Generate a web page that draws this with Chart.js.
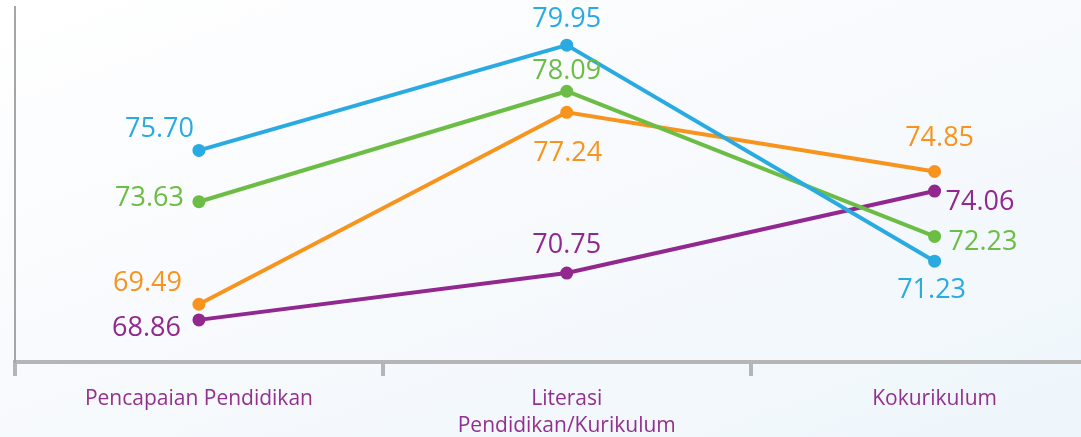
<!DOCTYPE html>
<html>
<head>
<meta charset="utf-8">
<script src="https://cdn.jsdelivr.net/npm/chart.js@4/dist/chart.umd.min.js"></script>
<style>
  html, body { margin: 0; padding: 0; overflow: hidden; }
  body {
    width: 1081px; height: 437px;
    background: linear-gradient(160deg, #ffffff 0%, #f8fafd 45%, #eef6fb 100%);
  }
  #wrap { position: relative; width: 1125px; height: 437px; }
</style>
</head>
<body>
<div id="wrap"><canvas id="chart"></canvas></div>
<script>
  // categories and series
  const categories = ['Pencapaian Pendidikan', ['Literasi', 'Pendidikan/Kurikulum'], 'Kokurikulum'];
  const blueValues = [75.70, 79.95, 71.23];
  const greenValues = [73.63, 78.09, 72.23];
  const orangeValues = [69.49, 77.24, 74.85];
  const purpleValues = [68.86, 70.75, 74.06];

  const BLUE = '#29abe2', GREEN = '#6cbd45', ORANGE = '#f7941d', PURPLE = '#92278f';

  // where each value label sits relative to its point: [dx, dy, align]
  const labelPos = [
    [[-5, -21, 'right'], [0, -26, 'center'], [-3, 29, 'center']],
    [[-15, -3, 'right'], [0, -20, 'center'], [14, 6, 'left']],
    [[-17, -21, 'right'], [1, 41, 'center'], [5, -33, 'center']],
    [[-18, 8, 'right'], [0, -28, 'center'], [11, 11, 'left']]
  ];

  const valueLabels = {
    id: 'valueLabels',
    afterDatasetsDraw(chart) {
      const ctx = chart.ctx;
      ctx.save();
      ctx.font = '27px "Open Sans", sans-serif';
      ctx.textBaseline = 'middle';
      chart.data.datasets.forEach((ds, i) => {
        chart.getDatasetMeta(i).data.forEach((pt, j) => {
          const p = labelPos[i][j];
          ctx.fillStyle = ds.borderColor;
          ctx.textAlign = p[2];
          ctx.fillText(ds.data[j].toFixed(2), pt.x + p[0], pt.y + p[1]);
        });
      });
      ctx.restore();
    }
  };

  function series(data, color) {
    return {
      data: data,
      borderColor: color,
      backgroundColor: color,
      pointBackgroundColor: color,
      pointBorderWidth: 0,
      borderWidth: 4,
      pointRadius: 6.5,
      tension: 0,
      clip: false
    };
  }

  new Chart(document.getElementById('chart'), {
    type: 'line',
    data: {
      labels: categories,
      datasets: [
        series(blueValues, BLUE),
        series(greenValues, GREEN),
        series(orangeValues, ORANGE),
        series(purpleValues, PURPLE)
      ]
    },
    options: {
      responsive: true,
      maintainAspectRatio: false,
      animation: false,
      layout: { padding: { left: 15, top: 4, right: 0, bottom: 0 } },
      plugins: { legend: { display: false }, tooltip: { enabled: false } },
      scales: {
        x: {
          offset: true,
          grid: {
            offset: true,
            drawOnChartArea: false,
            drawTicks: true,
            tickLength: 14,
            color: '#b5b5b5',
            lineWidth: 4
          },
          border: { color: '#b5b5b5', width: 4 },
          ticks: {
            color: '#93308f',
            font: { family: '"Open Sans", sans-serif', size: 21, lineHeight: 1.3 },
            padding: 9,
            maxRotation: 0
          },
          afterFit(scale) { scale.height = 75; }
        },
        y: {
          min: 67.16,
          max: 81.51,
          grid: { display: false },
          border: { color: '#a6a6a6', width: 2 },
          ticks: { display: false },
          afterFit(scale) { scale.width = 0; }
        }
      }
    },
    plugins: [valueLabels]
  });
</script>
</body>
</html>
